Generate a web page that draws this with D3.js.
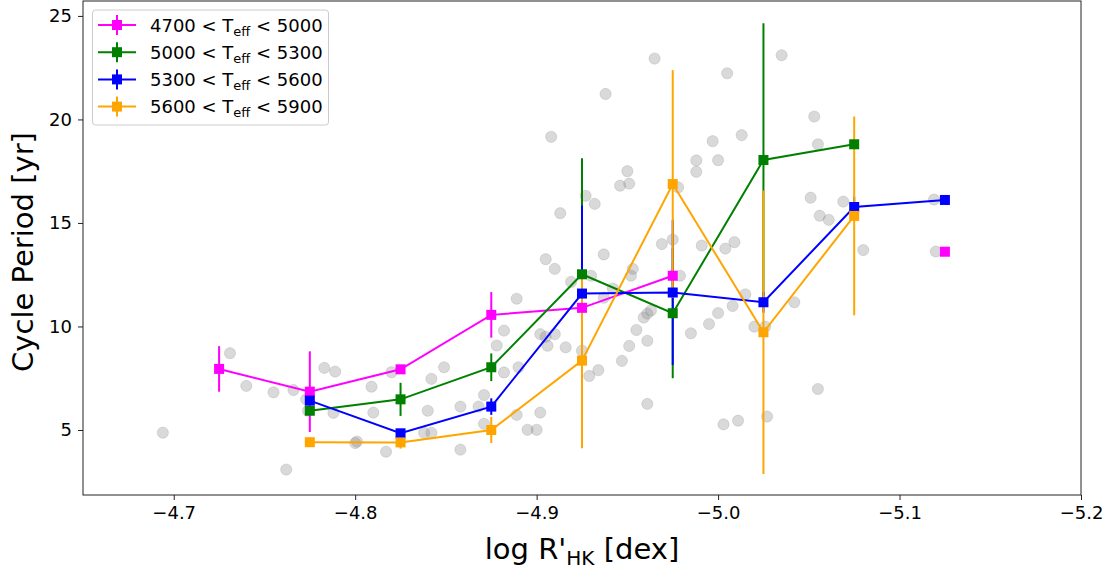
<!DOCTYPE html>
<html>
<head>
<meta charset="utf-8">
<script src="https://cdn.jsdelivr.net/npm/d3@7"></script>
<style>
  html, body { margin: 0; padding: 0; background: #fff; }
  svg { display: block; font-family: "DejaVu Sans", sans-serif; }
</style>
</head>
<body>
<svg id="chart" width="1111" height="571"></svg>
<script>
// ---------------- DATA ----------------
const bins = [-4.725, -4.775, -4.825, -4.875, -4.925, -4.975, -5.025, -5.075, -5.125];

const seriesNames = ["4700 < T", "5000 < T", "5300 < T", "5600 < T"];
const seriesUpper = ["5000", "5300", "5600", "5900"];
const seriesColors = ["#ff00ff", "#008000", "#0000ff", "#ffa500"];

const periodTeff1 = [7.95, 6.85, 7.93, 10.56, 10.90, 12.45, null, null, 13.61];
const errTeff1    = [1.10, 1.95, 0.20, 1.10, 0.30, 0.30, null, null, 0.10];
const periodTeff2 = [null, 5.93, 6.48, 8.03, 12.52, 10.64, 18.04, 18.80, null];
const errTeff2    = [null, 0.20, 0.80, 0.67, 5.60, 3.14, 6.60, 0.20, null];
const periodTeff3 = [null, 6.42, 4.84, 6.13, 11.59, 11.64, 11.17, 15.77, 16.11];
const errTeff3    = [null, 0.20, 0.20, 0.40, 4.25, 3.50, 0.50, 0.50, 0.10];
const periodTeff4 = [null, 4.41, 4.40, 5.00, 8.35, 16.88, 9.72, 15.34, null];
const errTeff4    = [null, 0.10, 0.30, 0.63, 4.23, 5.50, 6.85, 4.80, null];

const grayX = [-4.694, -4.731, -4.740, -4.755, -4.766, -4.773, -4.774, -4.783, -4.762, -4.789,
  -4.788, -4.809, -4.810, -4.800, -4.801, -4.817, -4.820, -4.838, -4.842, -4.842,
  -4.840, -4.849, -4.858, -4.858, -4.868, -4.871, -4.871, -4.882, -4.878, -4.882,
  -4.890, -4.889, -4.889, -4.895, -4.900, -4.902, -4.902, -4.905, -4.910, -4.906,
  -4.916, -4.925, -4.908, -4.913, -4.905, -4.910, -4.919, -4.929, -4.934, -4.947,
  -4.937, -4.930, -4.942, -4.937, -4.927, -4.932, -4.950, -4.946, -4.951, -4.953,
  -4.952, -4.959, -4.961, -4.963, -4.955, -4.951, -4.961, -4.961, -4.969, -4.975,
  -4.978, -4.979, -4.988, -4.988, -4.997, -5.000, -5.013, -4.991, -5.004, -5.009,
  -5.000, -4.995, -5.008, -5.015, -4.985, -5.020, -5.026, -5.003, -5.011, -5.027,
  -4.965, -5.005, -5.035, -5.053, -5.055, -5.051, -5.069, -5.056, -5.061, -5.080,
  -5.119, -5.120, -5.042, -5.055, -4.938];
const grayY = [4.87, 8.71, 7.13, 6.82, 6.93, 6.48, 5.93, 8.00, 3.09, 7.82,
  5.83, 7.09, 5.84, 4.37, 4.44, 3.95, 7.79, 4.86, 4.86, 7.47,
  5.93, 8.03, 6.13, 4.05, 6.13, 6.69, 5.30, 9.80, 9.08, 7.78,
  8.03, 11.34, 5.73, 5.01, 5.01, 5.84, 9.63, 9.50, 9.63, 9.07,
  8.99, 8.83, 19.16, 15.47, 13.25, 12.78, 12.15, 7.61, 7.89, 8.34,
  13.48, 12.45, 11.83, 11.39, 16.31, 15.92, 17.50, 16.80, 16.90, 12.78,
  12.45, 10.43, 10.62, 10.77, 9.83, 9.06, 9.31, 6.26, 13.98, 14.20,
  16.72, 12.45, 18.02, 17.47, 18.95, 18.03, 19.24, 13.91, 13.76, 14.07,
  10.65, 10.12, 10.99, 11.55, 9.67, 9.99, 9.99, 5.27, 5.45, 5.65,
  22.94, 22.23, 23.10, 20.14, 18.80, 16.22, 16.03, 15.35, 15.15, 13.69,
  16.13, 13.62, 11.17, 6.98, 21.23];

const xTicks = [-4.7, -4.8, -4.9, -5.0, -5.1, -5.2];
const yTicks = [5, 10, 15, 20, 25];

// ---------------- CHART ----------------
const svg = d3.select("#chart");
const L = 83, R = 1081, T = 1, B = 495;
const x = d3.scaleLinear().domain([-4.65, -5.2]).range([L, R]);
const y = d3.scaleLinear().domain([1.86, 25.72]).range([B, T]);

const periods = [periodTeff1, periodTeff2, periodTeff3, periodTeff4];
const errs = [errTeff1, errTeff2, errTeff3, errTeff4];
const series = periods.map((p, i) => ({
  color: seriesColors[i],
  pts: bins.map((b, j) => ({ x: b, y: p[j], e: errs[i][j] }))
}));

// background
svg.append("rect").attr("x", 0).attr("y", 0).attr("width", 1111).attr("height", 571).attr("fill", "#fff");

// gray scatter
svg.append("g").selectAll("circle")
  .data(grayX.map((v, i) => [v, grayY[i]]))
  .join("circle")
  .attr("cx", d => x(d[0])).attr("cy", d => y(d[1])).attr("r", 5.6)
  .attr("fill", "#808080").attr("fill-opacity", 0.3)
  .attr("stroke", "#808080").attr("stroke-opacity", 0.22).attr("stroke-width", 1);

// error bars (below data lines)
series.forEach(s => {
  svg.append("g").selectAll("line")
    .data(s.pts.filter(d => d.y != null && d.e != null))
    .join("line")
    .attr("x1", d => x(d.x)).attr("x2", d => x(d.x))
    .attr("y1", d => y(d.y - d.e)).attr("y2", d => y(d.y + d.e))
    .attr("stroke", s.color).attr("stroke-width", 2);
});

// lines + square markers
const line = d3.line().defined(d => d.y != null).x(d => x(d.x)).y(d => y(d.y));
series.forEach(s => {
  svg.append("path").datum(s.pts).attr("d", line)
    .attr("fill", "none").attr("stroke", s.color).attr("stroke-width", 2);
  svg.append("g").selectAll("rect")
    .data(s.pts.filter(d => d.y != null))
    .join("rect")
    .attr("x", d => x(d.x) - 5).attr("y", d => y(d.y) - 5)
    .attr("width", 10).attr("height", 10)
    .attr("fill", s.color);
});

// axes
const xAxis = d3.axisBottom(x).tickValues(xTicks)
  .tickFormat(d => d3.format(".1f")(d).replace("-", "\u2212")).tickSize(5).tickPadding(6);
const gx = svg.append("g").attr("transform", `translate(0,${B})`).call(xAxis);
gx.select(".domain").remove();
gx.selectAll("line").attr("stroke", "#222").attr("stroke-width", 1);
gx.selectAll("text").attr("font-size", 18).attr("fill", "#000").attr("font-family", "DejaVu Sans");

const yAxis = d3.axisLeft(y).tickValues(yTicks).tickSize(5).tickPadding(6);
const gy = svg.append("g").attr("transform", `translate(${L},0)`).call(yAxis);
gy.select(".domain").remove();
gy.selectAll("line").attr("stroke", "#222").attr("stroke-width", 1);
gy.selectAll("text").attr("font-size", 18).attr("fill", "#000").attr("font-family", "DejaVu Sans");

// frame
svg.append("rect").attr("x", L).attr("y", T).attr("width", R - L).attr("height", B - T)
  .attr("fill", "none").attr("stroke", "#222").attr("stroke-width", 1);

// axis labels
const xl = svg.append("text").attr("x", (L + R) / 2).attr("y", 559)
  .attr("text-anchor", "middle").attr("font-size", 29).attr("fill", "#000");
xl.append("tspan").text("log R'");
xl.append("tspan").attr("font-size", 20).attr("dy", 6).text("HK");
xl.append("tspan").attr("dy", -6).text(" [dex]");

svg.append("text").attr("transform", "translate(33,252) rotate(-90)")
  .attr("text-anchor", "middle").attr("font-size", 29).attr("fill", "#000")
  .text("Cycle Period [yr]");

// legend
const lg = svg.append("g");
lg.append("rect").attr("x", 92.5).attr("y", 10).attr("width", 236).attr("height", 115)
  .attr("rx", 3).attr("fill", "#fff").attr("fill-opacity", 0.8)
  .attr("stroke", "#cccccc").attr("stroke-width", 1);
seriesColors.forEach((c, i) => {
  const cy = 25 + i * 27.2;
  lg.append("line").attr("x1", 98).attr("x2", 136).attr("y1", cy).attr("y2", cy)
    .attr("stroke", c).attr("stroke-width", 2);
  lg.append("line").attr("x1", 117).attr("x2", 117).attr("y1", cy - 10).attr("y2", cy + 10)
    .attr("stroke", c).attr("stroke-width", 2);
  lg.append("rect").attr("x", 112).attr("y", cy - 5).attr("width", 10).attr("height", 10).attr("fill", c);
  const t = lg.append("text").attr("x", 150).attr("y", cy + 6.5).attr("font-size", 18).attr("fill", "#000");
  t.append("tspan").text(seriesNames[i]);
  t.append("tspan").attr("font-size", 13).attr("dy", 4).text("eff");
  t.append("tspan").attr("dy", -4).text(" < " + seriesUpper[i]);
});
</script>
</body>
</html>
